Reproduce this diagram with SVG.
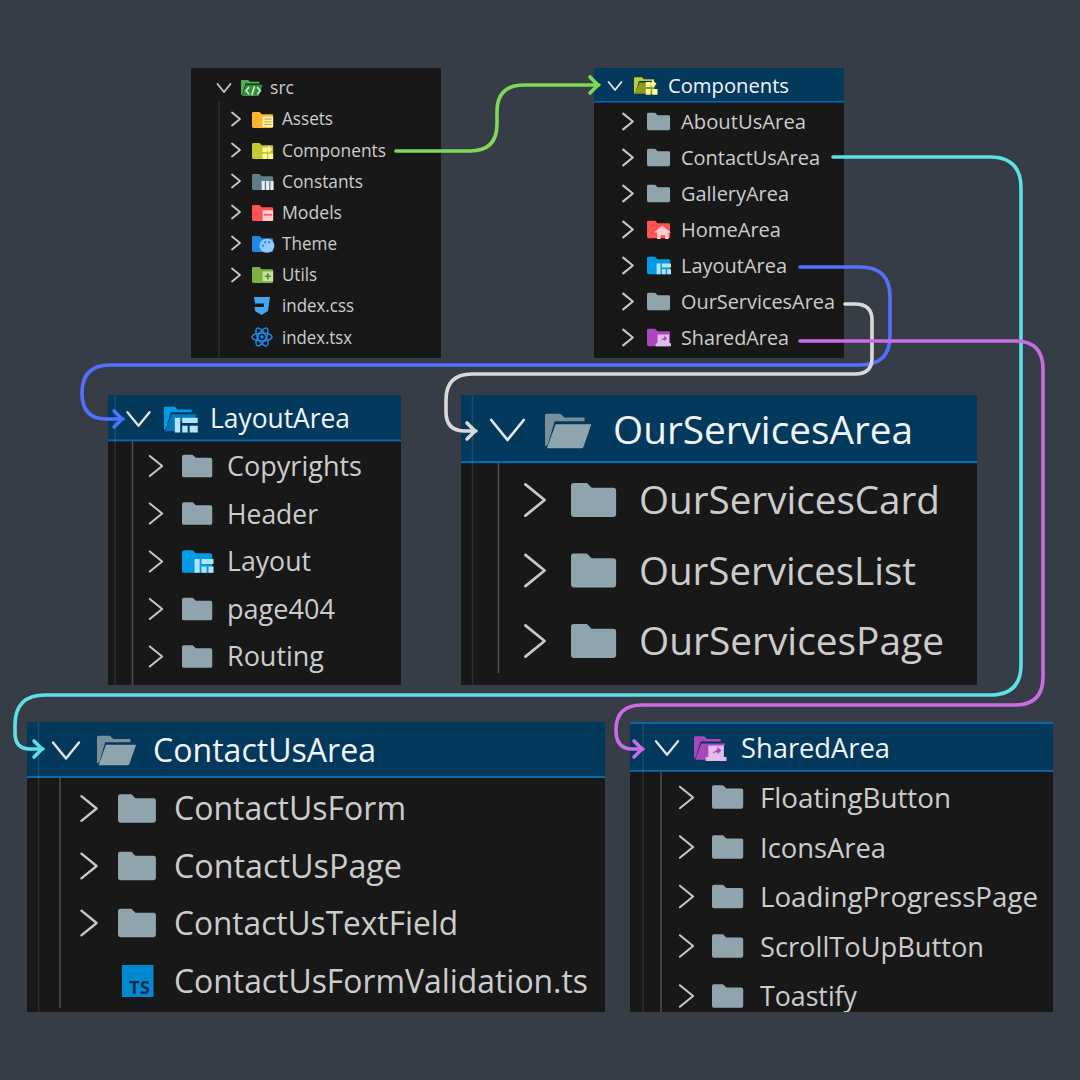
<svg xmlns="http://www.w3.org/2000/svg" width="1080" height="1080" viewBox="0 0 1080 1080">
<style>
text{font-family:"Open Sans","Noto Sans","Liberation Sans",sans-serif;font-weight:500;fill:#cccccc}
.h{fill:#f2f5f7}
.panel{fill:#181818}
.head{fill:#04395e}
.bar{fill:#0a6ab0}
.guide{stroke:#4f4f4f;stroke-width:1.5;fill:none}
.faint{stroke:#ffffff;stroke-opacity:.1;stroke-width:1.5;fill:none}
.chev{fill:none;stroke:#c8c8c8;stroke-width:1.800;stroke-linecap:round;stroke-linejoin:round}
.s1{font-size:17.6px}.s2{font-size:20.5px}.s3{font-size:27px}.s4{font-size:39px}.s5{font-size:32px}.s6{font-size:28px}
.conn{fill:none;stroke-width:3.6;stroke-linecap:round}
</style>
<defs>
<path id="cr" d="M-4 -6.500L4 0L-4 6.500"/>
<path id="cd" d="M-6.500 -4L0 4L6.500 -4"/>
<path id="fshape" d="M1.500 -9H8.500L11 -6.500H22.500Q24 -6.500 24 -5V7.500Q24 9 22.500 9H1.500Q0 9 0 7.500V-7.500Q0 -9 1.500 -9Z"/>
<use id="folder" href="#fshape" fill="#90a4ae"/>
<g id="open"><path d="M0 8V-8Q0 -9 1 -9H8L10 -7H20.500V-5H5L1.500 7Z" fill="#78909c"/><path d="M5.500 -3.500H24L20 8Q19.700 9 19 9H1Z" fill="#90a4ae"/></g>
<g id="i-assets"><use href="#fshape" fill="#ffb52e"/><path d="M12 -4H24V8H12Z" fill="#fff3a8"/><path d="M14 -1H22M14 2H22M14 5H22" stroke="#c79a2a" stroke-width="1.100"/></g>
<g id="i-comp"><use href="#fshape" fill="#c0ca33"/><path d="M12 -4H17V1H12ZM19 -6L23 -2L19 2L16.800 -2ZM12 3H17V9H12ZM18.500 3H24V9H18.500Z" fill="#fff59d"/></g>
<g id="i-const"><use href="#fshape" fill="#607d8b"/><path d="M11 -1H14.500V9H11ZM16 -1H19.500V9H16ZM21 -1H24.500V9H21Z" fill="#eceff1"/></g>
<g id="i-models"><use href="#fshape" fill="#ff5252"/><path d="M12 -3H24V9H12Z" fill="#ffcdd2"/><path d="M13.500 2H22.500" stroke="#ff5252" stroke-width="2"/></g>
<g id="i-theme"><use href="#fshape" fill="#1e88e5"/><ellipse cx="17" cy="2" rx="8.500" ry="8" fill="#90caf9"/><circle cx="15" cy="-2" r="1.300" fill="#1e88e5"/><circle cx="19.500" cy="-2" r="1.300" fill="#1e88e5"/><circle cx="12.500" cy="2" r="1.300" fill="#1e88e5"/></g>
<g id="i-utils"><use href="#fshape" fill="#7cb342"/><path d="M12 -4H24V7H12Z" fill="#c5e1a5"/><path d="M18 -2V5M14.500 1.500H21.500" stroke="#558b2f" stroke-width="1.800"/></g>
<g id="i-home"><use href="#fshape" fill="#ff5252"/><path d="M16 -4L25 3H22.500V10H19V6H14V10H10.500V3H7Z" fill="#ffcdd2"/></g>
<g id="i-layout"><use href="#fshape" fill="#039be5"/><path d="M10 -2H14V9H10ZM15.500 -2H25V2H15.500ZM15.500 4H19.500V9H15.500ZM21 4H25V9H21Z" fill="#b3e5fc"/></g>
<g id="i-shared"><use href="#fshape" fill="#ab47bc"/><path d="M11 -3H23V6H25V9H9V6H11Z" fill="#e1bee7"/><path d="M14 3L18 0V-2L21 1L18 4V2Z" fill="#ab47bc"/></g>
<g id="i-layout-open"><path d="M0 8V-8Q0 -9 1 -9H8L10 -7H20.500V-5H5L1.500 7Z" fill="#039be5"/><path d="M5.500 -3.500H24L22 2H10V9H1Z" fill="#0277bd"/><path d="M8 -1H12V10H8ZM13.500 -1H25V3H13.500ZM13.500 5H17.500V10H13.500ZM19 5H25V10H19Z" fill="#b3e5fc"/></g>
<g id="i-shared-open"><path d="M0 8V-8Q0 -9 1 -9H8L10 -7H20.500V-5H5L1.500 7Z" fill="#ab47bc"/><path d="M5.500 -3.500H24L20 8Q19.700 9 19 9H1Z" fill="#ab47bc"/><path d="M11 -2H23V7H25V10H9V7H11Z" fill="#e1bee7"/><path d="M14 4L18 1V-1L21 2L18 5V3Z" fill="#ab47bc"/></g>
<g id="i-comp-open"><path d="M0 8V-8Q0 -9 1 -9H8L10 -7H20.500V-5H5L1.500 7Z" fill="#c0ca33"/><path d="M5.500 -3.500H22L20 8H1Z" fill="#8f9a1e"/><path d="M12 -4H17V1H12ZM19 -6L23 -2L19 2L16.800 -2ZM12 3H17V9H12ZM18.500 3H24V9H18.500Z" fill="#fff59d"/></g>
<g id="i-src"><path d="M0 8V-8Q0 -9 1 -9H8L10 -7H20.500V-5H5L1.500 7Z" fill="#4caf50"/><path d="M5.500 -3.500H24L20 8Q19.700 9 19 9H1Z" fill="#388e3c"/><path d="M9 -1L5.500 3L9 7M18 -1L21.500 3L18 7M15 -2L12 8" fill="none" stroke="#c8f0c8" stroke-width="1.800"/></g>
<marker id="m-green" markerUnits="userSpaceOnUse" markerWidth="24" markerHeight="24" refX="14" refY="12" orient="auto" overflow="visible"><path d="M5 4L13 12L5 20" fill="none" stroke="#7ed957" stroke-width="3.600" stroke-linecap="round" stroke-linejoin="round"/></marker>
<marker id="m-cyan" markerUnits="userSpaceOnUse" markerWidth="24" markerHeight="24" refX="14" refY="12" orient="auto" overflow="visible"><path d="M5 4L13 12L5 20" fill="none" stroke="#5ce1e6" stroke-width="3.600" stroke-linecap="round" stroke-linejoin="round"/></marker>
<marker id="m-blue" markerUnits="userSpaceOnUse" markerWidth="24" markerHeight="24" refX="14" refY="12" orient="auto" overflow="visible"><path d="M5 4L13 12L5 20" fill="none" stroke="#5271ff" stroke-width="3.600" stroke-linecap="round" stroke-linejoin="round"/></marker>
<marker id="m-white" markerUnits="userSpaceOnUse" markerWidth="24" markerHeight="24" refX="14" refY="12" orient="auto" overflow="visible"><path d="M5 4L13 12L5 20" fill="none" stroke="#d9d9d9" stroke-width="3.600" stroke-linecap="round" stroke-linejoin="round"/></marker>
<marker id="m-purple" markerUnits="userSpaceOnUse" markerWidth="24" markerHeight="24" refX="14" refY="12" orient="auto" overflow="visible"><path d="M5 4L13 12L5 20" fill="none" stroke="#cb6ce6" stroke-width="3.600" stroke-linecap="round" stroke-linejoin="round"/></marker>
<clipPath id="clip-shared"><rect x="630" y="722" width="423" height="290"/></clipPath>
</defs>
<rect width="1080" height="1080" fill="#373d47"/>

<g id="src">
<rect class="panel" x="191" y="68" width="250" height="290"/>
<path class="faint" d="M219 102V358"/>
<use class="chev" href="#cd" transform="translate(224,88)"/>
<use href="#i-src" transform="translate(241,88) scale(.9)"/>
<text class="s1" x="270" y="94" textLength="24" lengthAdjust="spacingAndGlyphs">src</text>
<use class="chev" href="#cr" transform="translate(236,119)"/><use href="#i-assets" transform="translate(252,120) scale(.88)"/><text class="s1" x="282" y="125" textLength="51" lengthAdjust="spacingAndGlyphs">Assets</text>
<use class="chev" href="#cr" transform="translate(236,150)"/><use href="#i-comp" transform="translate(252,151) scale(.88)"/><text class="s1" x="282" y="156.500" textLength="104" lengthAdjust="spacingAndGlyphs">Components</text>
<use class="chev" href="#cr" transform="translate(236,181)"/><use href="#i-const" transform="translate(252,182) scale(.88)"/><text class="s1" x="282" y="187.500" textLength="81" lengthAdjust="spacingAndGlyphs">Constants</text>
<use class="chev" href="#cr" transform="translate(236,212)"/><use href="#i-models" transform="translate(252,213) scale(.88)"/><text class="s1" x="282" y="218.500" textLength="60" lengthAdjust="spacingAndGlyphs">Models</text>
<use class="chev" href="#cr" transform="translate(236,243)"/><use href="#i-theme" transform="translate(252,244) scale(.88)"/><text class="s1" x="282" y="249.500" textLength="55" lengthAdjust="spacingAndGlyphs">Theme</text>
<use class="chev" href="#cr" transform="translate(236,275)"/><use href="#i-utils" transform="translate(252,275) scale(.88)"/><text class="s1" x="282" y="280.500" textLength="35" lengthAdjust="spacingAndGlyphs">Utils</text>
<path d="M254 297H270L268 311L261.500 315L255 311L254.500 307H264L264 303.500H255Z" fill="#42a5f5"/>
<text class="s1" x="282" y="312" textLength="72" lengthAdjust="spacingAndGlyphs">index.css</text>
<g fill="none" stroke="#1e88e5" stroke-width="1.500"><ellipse cx="262" cy="337" rx="10" ry="4"/><ellipse cx="262" cy="337" rx="10" ry="4" transform="rotate(60 262 337)"/><ellipse cx="262" cy="337" rx="10" ry="4" transform="rotate(120 262 337)"/></g><circle cx="262" cy="337" r="1.800" fill="#1e88e5"/>
<text class="s1" x="282" y="343.500" textLength="70" lengthAdjust="spacingAndGlyphs">index.tsx</text>
</g>

<g id="components">
<rect class="panel" x="594" y="68" width="250" height="290"/>
<rect class="head" x="594" y="68" width="250" height="33"/>
<rect class="bar" x="594" y="101" width="250" height="1.500"/>
<use class="chev" style="stroke:#e6e6e6" href="#cd" transform="translate(615,86)"/>
<use href="#i-comp-open" transform="translate(634,86) scale(.98)"/>
<text class="s2 h" x="668" y="93" textLength="121" lengthAdjust="spacingAndGlyphs">Components</text>
<use class="chev" href="#cr" transform="translate(628,121.500) scale(1.200)"/><use href="#folder" transform="translate(647,121.500) scale(.96)"/><text class="s2" x="681" y="129" textLength="125" lengthAdjust="spacingAndGlyphs">AboutUsArea</text>
<use class="chev" href="#cr" transform="translate(628,157.500) scale(1.200)"/><use href="#folder" transform="translate(647,157.500) scale(.96)"/><text class="s2" x="681" y="165" textLength="139" lengthAdjust="spacingAndGlyphs">ContactUsArea</text>
<use class="chev" href="#cr" transform="translate(628,193.500) scale(1.200)"/><use href="#folder" transform="translate(647,193.500) scale(.96)"/><text class="s2" x="681" y="201" textLength="108" lengthAdjust="spacingAndGlyphs">GalleryArea</text>
<use class="chev" href="#cr" transform="translate(628,229.500) scale(1.200)"/><use href="#i-home" transform="translate(647,229.500) scale(.96)"/><text class="s2" x="681" y="237" textLength="100" lengthAdjust="spacingAndGlyphs">HomeArea</text>
<use class="chev" href="#cr" transform="translate(628,265.500) scale(1.200)"/><use href="#i-layout" transform="translate(647,265.500) scale(.96)"/><text class="s2" x="681" y="273" textLength="106" lengthAdjust="spacingAndGlyphs">LayoutArea</text>
<use class="chev" href="#cr" transform="translate(628,301.500) scale(1.200)"/><use href="#folder" transform="translate(647,301.500) scale(.96)"/><text class="s2" x="681" y="309" textLength="154" lengthAdjust="spacingAndGlyphs">OurServicesArea</text>
<use class="chev" href="#cr" transform="translate(628,337.500) scale(1.200)"/><use href="#i-shared" transform="translate(647,337.500) scale(.96)"/><text class="s2" x="681" y="345" textLength="108" lengthAdjust="spacingAndGlyphs">SharedArea</text>
</g>

<g id="layout-area">
<rect class="panel" x="108" y="395" width="293" height="290"/>
<rect class="head" x="108" y="395" width="293" height="45"/>
<rect class="bar" x="108" y="439.500" width="293" height="1.800"/>
<path class="faint" d="M115 395V685"/>
<path class="guide" d="M132.500 441V685"/>
<use class="chev" style="stroke:#e6e6e6;stroke-width:1.300" href="#cd" transform="translate(138.500,419) scale(1.700)"/>
<use href="#i-layout-open" transform="translate(164,419) scale(1.350)"/>
<text class="s3 h" x="210" y="428" textLength="140" lengthAdjust="spacingAndGlyphs">LayoutArea</text>
<use class="chev" style="stroke-width:1.300" href="#cr" transform="translate(156,466) scale(1.550)"/><use href="#folder" transform="translate(182,466) scale(1.260)"/><text class="s3" x="227" y="476" textLength="135" lengthAdjust="spacingAndGlyphs">Copyrights</text>
<use class="chev" style="stroke-width:1.300" href="#cr" transform="translate(156,513.500) scale(1.550)"/><use href="#folder" transform="translate(182,513.500) scale(1.260)"/><text class="s3" x="227" y="523.500" textLength="91" lengthAdjust="spacingAndGlyphs">Header</text>
<use class="chev" style="stroke-width:1.300" href="#cr" transform="translate(156,561.500) scale(1.550)"/><use href="#i-layout" transform="translate(182,561.500) scale(1.260)"/><text class="s3" x="227" y="571" textLength="84" lengthAdjust="spacingAndGlyphs">Layout</text>
<use class="chev" style="stroke-width:1.300" href="#cr" transform="translate(156,609) scale(1.550)"/><use href="#folder" transform="translate(182,609) scale(1.260)"/><text class="s3" x="227" y="619" textLength="108" lengthAdjust="spacingAndGlyphs">page404</text>
<use class="chev" style="stroke-width:1.300" href="#cr" transform="translate(156,656.500) scale(1.550)"/><use href="#folder" transform="translate(182,656.500) scale(1.260)"/><text class="s3" x="227" y="666" textLength="97" lengthAdjust="spacingAndGlyphs">Routing</text>
</g>

<g id="our-services-area">
<rect class="panel" x="461" y="395" width="516" height="290"/>
<rect class="head" x="461" y="395" width="516" height="66.500"/>
<rect class="bar" x="461" y="461" width="516" height="2.200"/>
<path class="faint" d="M472.500 395V685"/>
<path class="guide" d="M498.500 463V673"/>
<use class="chev" style="stroke:#e6e6e6;stroke-width:1.100" href="#cd" transform="translate(507.500,430) scale(2.500)"/>
<use href="#open" transform="translate(545,431) scale(1.930)"/>
<text class="s4 h" x="613" y="444" textLength="300" lengthAdjust="spacingAndGlyphs">OurServicesArea</text>
<use class="chev" style="stroke-width:1.150" href="#cr" transform="translate(535,500) scale(2.400)"/><use href="#folder" transform="translate(571,500) scale(1.880)"/><text class="s4" x="639" y="514" textLength="301" lengthAdjust="spacingAndGlyphs">OurServicesCard</text>
<use class="chev" style="stroke-width:1.150" href="#cr" transform="translate(535,570.500) scale(2.400)"/><use href="#folder" transform="translate(571,570.500) scale(1.880)"/><text class="s4" x="639" y="584.500" textLength="277" lengthAdjust="spacingAndGlyphs">OurServicesList</text>
<use class="chev" style="stroke-width:1.150" href="#cr" transform="translate(535,641) scale(2.400)"/><use href="#folder" transform="translate(571,641) scale(1.880)"/><text class="s4" x="639" y="655" textLength="305" lengthAdjust="spacingAndGlyphs">OurServicesPage</text>
</g>

<g id="contact-us-area">
<rect class="panel" x="27" y="722" width="578" height="290"/>
<rect class="head" x="27" y="722" width="578" height="54.500"/>
<rect class="bar" x="27" y="776" width="578" height="2"/>
<path class="faint" d="M38.500 722V1012"/>
<path class="guide" d="M60 778V1008"/>
<use class="chev" style="stroke:#e6e6e6;stroke-width:1.200" href="#cd" transform="translate(66,750.500) scale(2)"/>
<use href="#open" transform="translate(97,750.500) scale(1.630)"/>
<text class="s5 h" x="153" y="762" textLength="223" lengthAdjust="spacingAndGlyphs">ContactUsArea</text>
<use class="chev" style="stroke-width:1.250" href="#cr" transform="translate(89,808.500) scale(1.900)"/><use href="#folder" transform="translate(118,808.500) scale(1.580)"/><text class="s5" x="174" y="820" textLength="232" lengthAdjust="spacingAndGlyphs">ContactUsForm</text>
<use class="chev" style="stroke-width:1.250" href="#cr" transform="translate(89,866) scale(1.900)"/><use href="#folder" transform="translate(118,866) scale(1.580)"/><text class="s5" x="174" y="877.500" textLength="228" lengthAdjust="spacingAndGlyphs">ContactUsPage</text>
<use class="chev" style="stroke-width:1.250" href="#cr" transform="translate(89,923) scale(1.900)"/><use href="#folder" transform="translate(118,923) scale(1.580)"/><text class="s5" x="174" y="935" textLength="284" lengthAdjust="spacingAndGlyphs">ContactUsTextField</text>
<rect x="122" y="965" width="31.500" height="32" fill="#0288d1"/>
<text x="129" y="994" font-size="18" style="fill:#10304a;font-weight:700" textLength="21" lengthAdjust="spacingAndGlyphs">TS</text>
<text class="s5" x="174" y="992.500" textLength="414" lengthAdjust="spacingAndGlyphs">ContactUsFormValidation.ts</text>
</g>

<g id="shared-area" clip-path="url(#clip-shared)">
<rect class="panel" x="630" y="722" width="423" height="290"/>
<rect class="head" x="630" y="722" width="423" height="48"/>
<rect class="bar" x="630" y="722" width="423" height="1.800"/>
<rect class="bar" x="630" y="770" width="423" height="1.800"/>
<path class="faint" d="M643 722V1012"/>
<path class="guide" d="M661 771V1012"/>
<use class="chev" style="stroke:#e6e6e6;stroke-width:1.300" href="#cd" transform="translate(667,748) scale(1.700)"/>
<use href="#i-shared-open" transform="translate(694,748) scale(1.300)"/>
<text class="s6 h" x="741" y="758" textLength="149" lengthAdjust="spacingAndGlyphs">SharedArea</text>
<use class="chev" style="stroke-width:1.250" href="#cr" transform="translate(686.500,797.500) scale(1.650)"/><use href="#folder" transform="translate(712,797) scale(1.300)"/><text class="s6" x="760" y="808" textLength="191" lengthAdjust="spacingAndGlyphs">FloatingButton</text>
<use class="chev" style="stroke-width:1.250" href="#cr" transform="translate(686.500,847) scale(1.650)"/><use href="#folder" transform="translate(712,847) scale(1.300)"/><text class="s6" x="760" y="857.500" textLength="126" lengthAdjust="spacingAndGlyphs">IconsArea</text>
<use class="chev" style="stroke-width:1.250" href="#cr" transform="translate(686.500,896.500) scale(1.650)"/><use href="#folder" transform="translate(712,896.500) scale(1.300)"/><text class="s6" x="760" y="907" textLength="278" lengthAdjust="spacingAndGlyphs">LoadingProgressPage</text>
<use class="chev" style="stroke-width:1.250" href="#cr" transform="translate(686.500,946) scale(1.650)"/><use href="#folder" transform="translate(712,946) scale(1.300)"/><text class="s6" x="760" y="956.500" textLength="224" lengthAdjust="spacingAndGlyphs">ScrollToUpButton</text>
<use class="chev" style="stroke-width:1.250" href="#cr" transform="translate(686.500,996) scale(1.650)"/><use href="#folder" transform="translate(712,996) scale(1.300)"/><text class="s6" x="760" y="1006" textLength="97" lengthAdjust="spacingAndGlyphs">Toastify</text>
</g>

<g id="connectors">
<path class="conn" stroke="#7ed957" marker-end="url(#m-green)" d="M396 151H470Q497 151 497 124V112Q497 85 524 85H599"/>
<path class="conn" stroke="#5ce1e6" marker-end="url(#m-cyan)" d="M833 157H990Q1021 157 1021 188V665Q1021 695 990 695H45Q15 695 15 725V733Q15 749 30 749H43"/>
<path class="conn" stroke="#5271ff" marker-end="url(#m-blue)" d="M800 267H860Q890 267 890 297V336Q890 365 860 365H110Q82 365 82 393Q82 419 106 419H123"/>
<path class="conn" stroke="#d9d9d9" marker-end="url(#m-white)" d="M845 304H855Q872 304 872 320V358Q872 374 855 374H472Q446 374 446 400V412Q446 431 465 431H476"/>
<path class="conn" stroke="#cb6ce6" marker-end="url(#m-purple)" d="M800 341H1015Q1043 341 1043 369V677Q1043 705 1015 705H642Q616 705 616 730Q616 749 632 749H643"/>
</g>
</svg>
